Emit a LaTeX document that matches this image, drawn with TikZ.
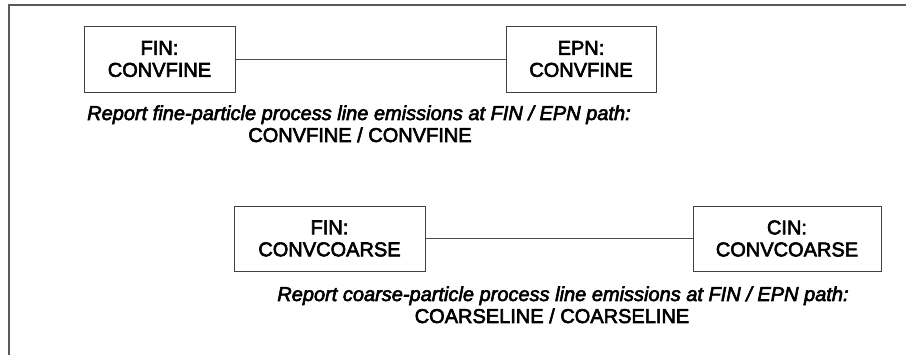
\documentclass[tikz,border=0pt]{standalone}
\usepackage{fontspec}
\setmainfont{Liberation Sans}
\newfontfamily\heavyfont{Liberation Sans}[FakeBold=3]
\begin{document}
\begin{tikzpicture}[x=1pt,y=-1pt,
  boxnode/.style={draw=black!75, line width=0.9pt, align=center, inner sep=0pt,
    font=\heavyfont\fontsize{20}{22}\selectfont},
  labelnode/.style={inner sep=0pt, anchor=base,
    font=\heavyfont\fontsize{20}{22}\selectfont},
  conn/.style={draw=black!70, line width=0.8pt},
  frameline/.style={draw=black!65, line width=1.4pt}]
\useasboundingbox (0,0) rectangle (906,355);
\coordinate (ftop) at (906,5);
\coordinate (fcorner) at (9,5);
\coordinate (fbot) at (9,355);
\draw[frameline] (ftop) -- (fcorner) -- (fbot);

\node[boxnode, minimum width=151pt, minimum height=66pt] (fin1) at (159.5,59) {FIN:\\CONVFINE};
\node[boxnode, minimum width=150pt, minimum height=66pt] (epn) at (581,59) {EPN:\\CONVFINE};
\draw[conn] (fin1) -- (epn);
\node[labelnode] (lab1a) at (359,120) {\itshape Report fine-particle process line emissions at FIN / EPN path:};
\node[labelnode] (lab1b) at (360,142) {CONVFINE / CONVFINE};

\node[boxnode, minimum width=191pt, minimum height=65pt] (fin2) at (329.5,238.5) {FIN:\\CONVCOARSE};
\node[boxnode, minimum width=188pt, minimum height=65pt] (cin) at (787,238.5) {CIN:\\CONVCOARSE};
\draw[conn] (fin2) -- (cin);
\node[labelnode] (lab2a) at (563,301) {\itshape Report coarse-particle process line emissions at FIN / EPN path:};
\node[labelnode] (lab2b) at (552,323) {COARSELINE / COARSELINE};
\end{tikzpicture}
\end{document}
